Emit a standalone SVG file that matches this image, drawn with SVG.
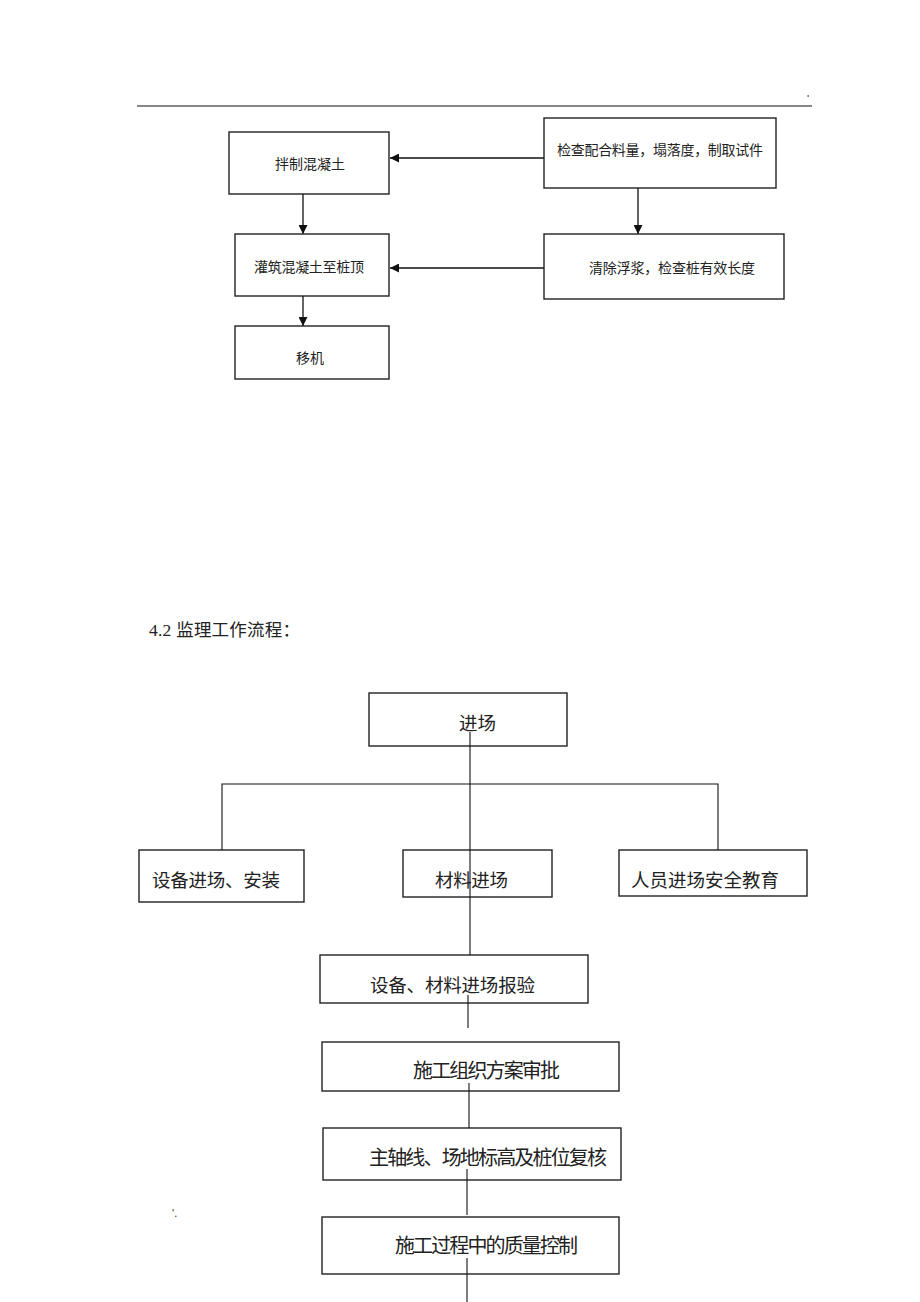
<svg xmlns="http://www.w3.org/2000/svg" width="920" height="1302" viewBox="0 0 920 1302">
<style>
.box{fill:#fff;stroke:#222;stroke-width:1.4}
.t{font-family:"Noto Sans CJK SC","Noto Sans CJK JP",sans-serif;fill:#222}
.s{font-size:14px}
.m{font-size:18.5px}
.l{font-size:20px}
.c{stroke:#111;stroke-width:1.3;fill:none}
.c2{stroke:#111;stroke-width:1.1;fill:none}
</style>
<defs>
<marker id="ah" viewBox="0 0 10 10" refX="10" refY="5" markerWidth="9" markerHeight="9" markerUnits="userSpaceOnUse" orient="auto">
<path d="M0,0 L10,5 L0,10 z" fill="#111"/>
</marker>
</defs>
<rect width="920" height="1302" fill="#fff"/>
<g id="header">
<line x1="137" y1="106" x2="812" y2="106" stroke="#111" stroke-width="1.2"/>
<rect x="807.5" y="95" width="1.2" height="2" fill="#555"/>
</g>
<g id="connectors">
<line class="c" x1="544" y1="158" x2="390" y2="158" marker-end="url(#ah)"/>
<line class="c" x1="544" y1="268" x2="390" y2="268" marker-end="url(#ah)"/>
<line class="c" x1="303" y1="194" x2="303" y2="234" marker-end="url(#ah)"/>
<line class="c" x1="303" y1="296" x2="303" y2="326" marker-end="url(#ah)"/>
<line class="c" x1="638" y1="183" x2="638" y2="234" marker-end="url(#ah)"/>
</g>
<g id="n1"><rect class="box" x="229" y="132" width="160" height="62"/><text class="t s" x="275" y="169">拌制混凝土</text></g>
<g id="n2"><rect class="box" x="544" y="118" width="232" height="70"/><text class="t s" x="557" y="155" textLength="206">检查配合料量，塌落度，制取试件</text></g>
<g id="n3"><rect class="box" x="235" y="234" width="154" height="62"/><text class="t s" x="254" y="272" textLength="110">灌筑混凝土至桩顶</text></g>
<g id="n4"><rect class="box" x="544" y="234" width="240" height="65"/><text class="t s" x="589" y="273" textLength="166">清除浮浆，检查桩有效长度</text></g>
<g id="n5"><rect class="box" x="235" y="326" width="154" height="53"/><text class="t s" x="296" y="363">移机</text></g>
<g id="title"><text x="149" y="636" textLength="151" style="font-family:'Liberation Serif','Noto Sans CJK SC',serif;font-size:17.5px;fill:#222">4.2 监理工作流程：</text></g>
<g id="b1"><rect class="box" x="369" y="693" width="198" height="53"/><text class="t m" x="459" y="730">进场</text></g>
<g id="b2"><rect class="box" x="139" y="850" width="165" height="52"/><text class="t m" x="152" y="887" textLength="128">设备进场、安装</text></g>
<g id="b3"><rect class="box" x="403" y="850" width="149" height="47"/><text class="t m" x="435" y="887" textLength="73">材料进场</text></g>
<g id="b4"><rect class="box" x="619" y="850" width="188" height="46"/><text class="t m" x="631" y="887" textLength="148">人员进场安全教育</text></g>
<g id="b5"><rect class="box" x="320" y="955" width="268" height="48"/><text class="t m" x="370" y="992" textLength="165">设备、材料进场报验</text></g>
<g id="b6"><rect class="box" x="322" y="1042" width="297" height="49"/><text class="t l" x="413" y="1078" textLength="147">施工组织方案审批</text></g>
<g id="b7"><rect class="box" x="323" y="1128" width="298" height="52"/><text class="t l" x="369" y="1165" textLength="238">主轴线、场地标高及桩位复核</text></g>
<g id="b8"><rect class="box" x="322" y="1217" width="297" height="57"/><text class="t l" x="395" y="1253" textLength="183">施工过程中的质量控制</text></g>
<g id="connectors2">
<line class="c2" x1="470" y1="732" x2="470" y2="955"/>
<polyline class="c2" points="222,850 222,784 718,784 718,850"/>
<line class="c2" x1="468" y1="995" x2="468" y2="1028"/>
<line class="c2" x1="469" y1="1083" x2="469" y2="1128"/>
<line class="c2" x1="467" y1="1169" x2="467" y2="1215"/>
<line class="c2" x1="467" y1="1258" x2="467" y2="1302"/>
</g>
<g id="mark"><text x="172" y="1217" style="font-family:'Liberation Serif',serif;font-size:12px;fill:#444">'.</text></g>
</svg>
